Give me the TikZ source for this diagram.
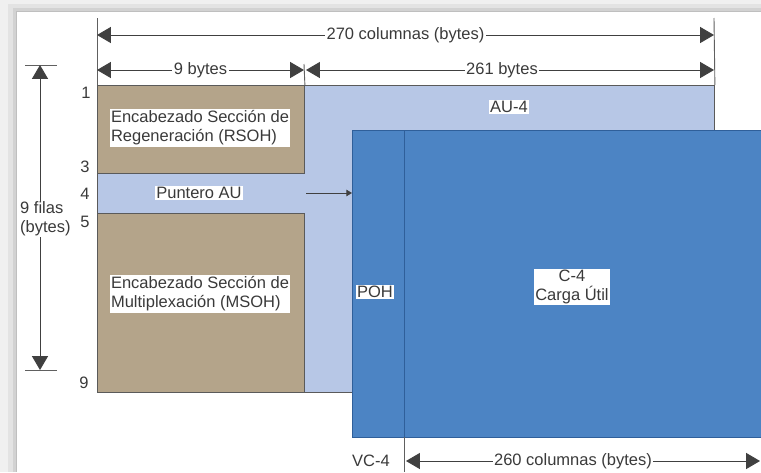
\documentclass[tikz,border=0pt]{standalone}
\usepackage{fontspec}
\setmainfont{Liberation Sans}
\usetikzlibrary{arrows.meta}
\definecolor{sohtan}{HTML}{B4A48A}
\definecolor{aublue}{HTML}{B7C7E6}
\definecolor{vcblue}{HTML}{4C84C4}
\definecolor{vcedge}{HTML}{2F5F9A}
\definecolor{txt}{HTML}{3A3A3A}
\definecolor{dim}{HTML}{404040}
\definecolor{edge}{HTML}{5A5A5A}
\begin{document}
\begin{tikzpicture}[x=1pt,y=-1pt,
  font=\fontsize{16.5}{19}\selectfont,
  region/.style={draw=edge, line width=0.9pt, inner sep=0pt, anchor=north west},
  lbl/.style={fill=white, inner sep=1.5pt, text=txt, align=left},
  dimlbl/.style={fill=white, inner sep=1.5pt, text=txt},
  dimline/.style={draw=dim, line width=0.9pt, {Triangle[scale=2.7]}-{Triangle[scale=2.7]}},
  ext/.style={draw=gray!75!black, line width=0.9pt},
  rownum/.style={text=txt, inner sep=0pt}
]
\useasboundingbox (0,0) rectangle (761,472);
\clip (0,0) rectangle (761,472);
% frame shadow
\fill[gray!12] (0,0) rectangle (761,472);
\fill[gray!22] (8,4) rectangle (761,472);
\fill[gray!35] (13,8) rectangle (761,472);
\fill[gray!50] (16,11) rectangle (761,472);
\fill[white] (17,12) rectangle (761,472);

% regions
\node[region, fill=aublue, minimum width=617pt, minimum height=307pt] (au) at (97,85) {};
\node[region, fill=sohtan, minimum width=207pt, minimum height=88pt] (rsoh) at (97,85) {};
\node[region, fill=sohtan, minimum width=207pt, minimum height=179pt] (msoh) at (97,213) {};
\node[region, draw=vcedge, fill=vcblue, minimum width=430pt, minimum height=307pt] (vc) at (352,130) {};

% POH divider
\coordinate (pohtop) at (404,130);
\coordinate (pohbot) at (404,437);
\coordinate (pohend) at (404,472);
\draw[vcedge, line width=1pt] (pohtop) -- (pohbot);
\draw[ext] (pohbot) -- (pohend);

% labels
\node[lbl] (rsohtxt) at (200,128) {Encabezado Sección de\\Regeneración (RSOH)};
\node[lbl] (msohtxt) at (200,294) {Encabezado Sección de\\Multiplexación (MSOH)};
\node[lbl] (ptr) at (199,193) {Puntero AU};
\node[lbl] (au4) at (509,107) {AU-4};
\node[lbl] (poh) at (375,292) {POH};
\node[lbl, align=center] (c4) at (572,287) {C-4\\Carga Útil};
\node[rownum] (vc4) at (371,461) {VC-4};

% pointer arrow
\coordinate (ptrs) at (306,193);
\draw[dim, line width=0.9pt, -{Triangle[scale=1.1]}] (ptrs) -- (ptrs -| vc.west);

% extension lines
\coordinate (e1) at (97,18);
\coordinate (e2) at (714,18);
\coordinate (e3) at (304,64);
\draw[ext] (e1) -- (au.north west);
\draw[ext] (e2) -- (au.north east);
\draw[ext] (e3) -- (rsoh.north east);

% dimension lines
\coordinate (a1) at (97,35);
\coordinate (a2) at (714,35);
\draw[dimline] (a1) -- node[dimlbl] (l270) {270 columnas (bytes)} (a2);
\coordinate (b1) at (97,70);
\coordinate (b2) at (304,70);
\draw[dimline] (b1) -- node[dimlbl] (l9) {9 bytes} (b2);
\coordinate (c1) at (306,70);
\coordinate (c2) at (714,70);
\draw[dimline] (c1) -- node[dimlbl, xshift=-8pt] (l261) {261 bytes} (c2);
\coordinate (d1) at (406,461);
\coordinate (d2) at (760,461);
\draw[dimline] (d1) -- node[dimlbl, xshift=-10pt] (l260) {260 columnas (bytes)} (d2);

% vertical rows dimension
\coordinate (t1) at (25,65);
\coordinate (t2) at (57,65);
\coordinate (t3) at (25,370);
\coordinate (t4) at (57,370);
\draw[ext] (t1) -- (t2);
\draw[ext] (t3) -- (t4);
\coordinate (v1) at (40,65);
\coordinate (v2) at (40,370);
\draw[dimline] (v1) -- (v2);
\node[dimlbl, align=left, anchor=west, inner sep=1pt] (filas) at (19,219) {9 filas\\(bytes)};

% row numbers
\node[rownum] (r1) at (86,93) {1};
\node[rownum] (r3) at (85,167) {3};
\node[rownum] (r4) at (85,194) {4};
\node[rownum] (r5) at (85,222) {5};
\node[rownum] (r9) at (84,383) {9};
\end{tikzpicture}
\end{document}
